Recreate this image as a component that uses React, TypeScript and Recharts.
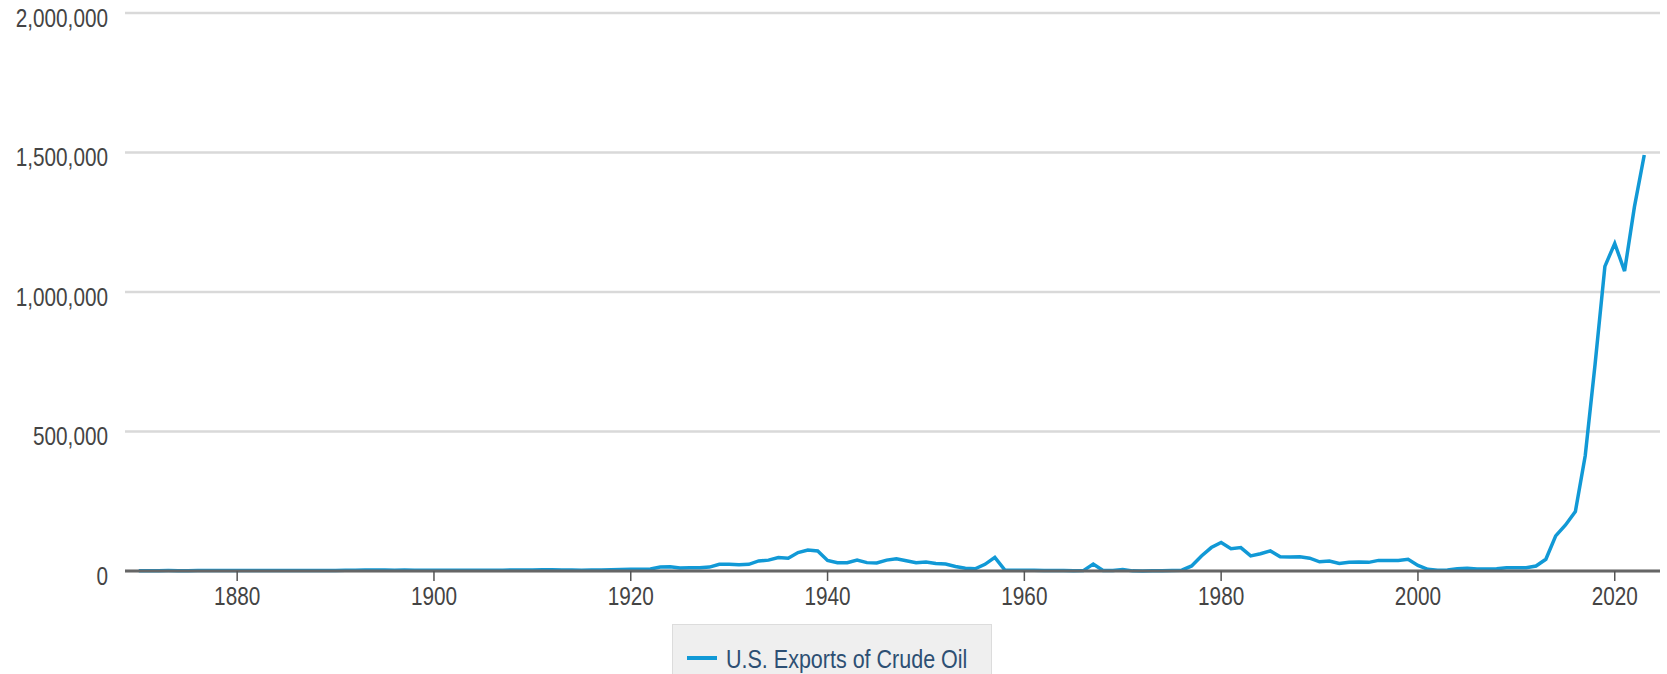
import { LineChart, Line, XAxis, YAxis, CartesianGrid, Legend } from "recharts";

// U.S. exports of crude oil, thousand barrels per year
const START_YEAR = 1870;
const crudeExports: number[] = [
  // 1870s
  1000, 1200, 1100, 1500, 1300, 1200, 1400, 1600, 1500, 1700,
  // 1880s
  1800, 1700, 1600, 1500, 1700, 1600, 1800, 1700, 1900, 2000,
  // 1890s
  2200, 2400, 2800, 3200, 3400, 3200, 3000, 3300, 3100, 2900,
  // 1900s
  2800, 2600, 2700, 2500, 2400, 2600, 2800, 3000, 3300, 3600,
  // 1910s
  4000, 4300, 4100, 3600, 3200, 3000, 3400, 3800, 4500, 5200,
  // 1920s
  6000, 6500, 7000, 14000, 15000, 10500, 12000, 12000, 14000, 24000,
  // 1930s
  24000, 22000, 24000, 36000, 39000, 48000, 46000, 66000, 75000, 72000,
  // 1940s
  38000, 30000, 30000, 39000, 30000, 29000, 39000, 44000, 37000, 30000,
  // 1950s
  32000, 27000, 25000, 16000, 10000, 8000, 24000, 49000, 4000, 2500,
  // 1960s
  3000, 3000, 2000, 1700, 1400, 1100, 1500, 25000, 1800, 1400,
  // 1970s
  5000, 500, 200, 900, 1100, 2100, 2900, 18000, 54000, 84000,
  // 1980s
  102000, 80000, 84000, 54000, 62000, 72000, 51000, 50000, 51000, 46000,
  // 1990s
  33000, 36000, 27000, 31000, 32000, 31000, 38000, 38000, 38000, 42000,
  // 2000s
  20000, 6000, 3000, 3500, 8000, 10000, 7000, 7000, 8000, 12000,
  // 2010s
  12000, 12000, 18000, 42000, 126000, 165000, 213000, 413000, 740000, 1092000,
  // 2020s
  1174000, 1075000, 1305000, 1491000,
];

const xTicks = [1880, 1900, 1920, 1940, 1960, 1980, 2000, 2020];
const yTicks = [0, 500000, 1000000, 1500000, 2000000];
const SERIES_NAME = "U.S. Exports of Crude Oil";

const data = crudeExports.map((v, i) => ({ year: START_YEAR + i, value: v }));

// no narrow font installed, so squeeze Liberation Sans horizontally
const FONT = "'Liberation Sans', Arial, sans-serif";
const SQUEEZE = 0.83;
const LINE_COLOR = "#1199d6";

function XTick(props: any) {
  const { x, y, payload } = props;
  return (
    <g transform={`translate(${x},${y + 24}) scale(${SQUEEZE},1)`}>
      <text x={0} y={0} textAnchor="middle" fill="#444" fontSize={25} fontFamily={FONT}>
        {payload.value}
      </text>
    </g>
  );
}

function YTick(props: any) {
  const { x, y, payload } = props;
  return (
    <g transform={`translate(${x},${y + 13.5}) scale(${SQUEEZE},1)`}>
      <text x={0} y={0} textAnchor="end" fill="#444" fontSize={25} fontFamily={FONT}>
        {payload.value.toLocaleString("en-US")}
      </text>
    </g>
  );
}

function LegendBox() {
  return (
    <div
      style={{
        position: "relative",
        width: 320,
        height: 60,
        boxSizing: "border-box",
        background: "#efefef",
        border: "1px solid #dcdcdc",
        fontFamily: FONT,
      }}
    >
      <div
        style={{
          position: "absolute",
          left: 14,
          top: 31,
          width: 30,
          height: 4,
          background: LINE_COLOR,
        }}
      />
      <div
        style={{
          position: "absolute",
          left: 53,
          top: 20,
          fontSize: 25,
          lineHeight: "28px",
          color: "#2d4f73",
          whiteSpace: "nowrap",
          transform: "scaleX(0.86)",
          transformOrigin: "left top",
        }}
      >
        {SERIES_NAME}
      </div>
    </div>
  );
}

export default function App() {
  return (
    <div style={{ position: "absolute", left: 0, top: 0, width: 1667, height: 674, overflow: "hidden", background: "#fff" }}>
      <LineChart width={1667} height={674} data={data} margin={{ top: 13, right: 7, bottom: 0, left: 0 }}>
        <CartesianGrid vertical={false} stroke="#d9d9d9" strokeWidth={2.5} />
        <XAxis
          dataKey="year"
          type="number"
          domain={[1868.6, 2024.6]}
          ticks={xTicks}
          interval={0}
          height={103}
          axisLine={{ stroke: "#666", strokeWidth: 3 }}
          tickLine={{ stroke: "#555", strokeWidth: 1.5 }}
          tickSize={10}
          tickMargin={0}
          tick={<XTick />}
          allowDataOverflow
        />
        <YAxis
          domain={[0, 2000000]}
          ticks={yTicks}
          interval={0}
          width={125}
          axisLine={false}
          tickLine={false}
          tickSize={0}
          tickMargin={17}
          tick={<YTick />}
        />
        <Legend
          layout="horizontal"
          verticalAlign="middle"
          align="center"
          wrapperStyle={{ left: 672, top: 624, width: 320, height: 60 }}
          content={() => <LegendBox />}
        />
        <Line
          type="linear"
          dataKey="value"
          name={SERIES_NAME}
          stroke={LINE_COLOR}
          strokeWidth={3.5}
          dot={false}
          isAnimationActive={false}
        />
      </LineChart>
    </div>
  );
}
